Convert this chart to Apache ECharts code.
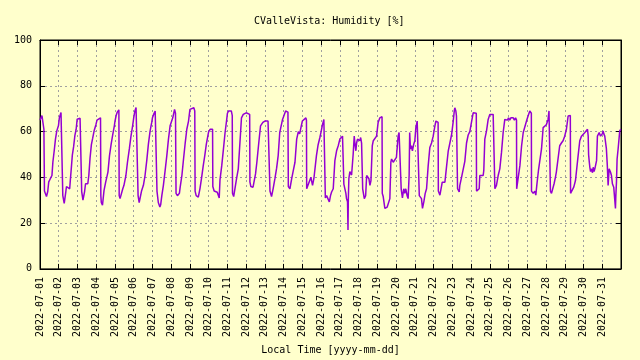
<!DOCTYPE html>
<html>
<head>
<meta charset="utf-8">
<script src="https://cdn.jsdelivr.net/npm/echarts@6/dist/echarts.min.js"></script>
<style>
html,body{margin:0;padding:0;background:#ffffcc;}
#chart{width:640px;height:360px;}
</style>
</head>
<body>
<div id="chart"></div>
<script>
// Tick labels for each day of July 2022
const tickLabels = [
  '2022-07-01','2022-07-02','2022-07-03','2022-07-04','2022-07-05','2022-07-06','2022-07-07',
  '2022-07-08','2022-07-09','2022-07-10','2022-07-11','2022-07-12','2022-07-13','2022-07-14',
  '2022-07-15','2022-07-16','2022-07-17','2022-07-18','2022-07-19','2022-07-20','2022-07-21',
  '2022-07-22','2022-07-23','2022-07-24','2022-07-25','2022-07-26','2022-07-27','2022-07-28',
  '2022-07-29','2022-07-30','2022-07-31'
];
const yTicks = [0, 20, 40, 60, 80, 100];

// Humidity readings [hour of day, %RH], one sub-array per day
const week1 = [ // Jul 1 - Jul 7
  [[0,65],[1.5,65.5],[2.5,67],[4,67],[5,61],[5.7,34],[8.3,31.6],[9.9,33.8],[11.2,38],[13.2,39.4],[15.3,40.8],[16.5,46.7],[18.2,51.6],[19.8,56.7],[21.5,60.3],[23.6,62.5]],
  [[0.8,66],[2.9,68.3],[4.1,69],[4.8,69],[5.2,32],[7,28.6],[9.1,33.8],[9.9,36],[14,35],[14.9,39],[16.1,44],[17.4,49.7],[19,53.3],[20.7,58.3],[22.3,61],[23.6,65.4]],
  [[1.2,65.8],[3.3,65.8],[5,65.5],[5.4,33.8],[7,30],[9.1,33.8],[10.3,37.2],[13.2,37.2],[14.5,40.8],[16.1,48.5],[17.8,54.3],[19.4,57],[21.5,60.6],[23.6,63]],
  [[1,65],[3,65.8],[5.5,66],[5.9,32],[6.5,29],[8,27.8],[10,34.3],[12.1,37.9],[13.7,38.6],[15,42.3],[17,49.5],[19.1,54.5],[21.2,58.8],[23.2,62.5]],
  [[0,64.5],[1.5,67],[3,68.5],[4.5,69],[5,69.5],[5.4,32],[6.5,30.7],[8.5,31],[10,35],[11.5,36.5],[14,40.8],[16,46.6],[18.4,52.4],[20.5,58],[22.6,62.5]],
  [[0,66],[1.5,69],[3,70.5],[5,71],[5.6,32],[7,29],[8,28.5],[10,34],[12.4,36.5],[14.5,40.8],[16.7,47.3],[18.8,54.5],[21,60.3],[23,63.9]],
  [[0,66],[1.5,67.5],[3.5,69],[5.3,69.5],[5.8,34],[7.5,29],[9.5,27],[10.5,28],[12,32],[14,36.5],[16,42.3],[18.4,49.5],[20.5,56.7],[22.6,62.5]]
];
const week2 = [ // Jul 8 - Jul 14
  [[0,64],[2,66],[4.3,69.7],[5.5,68],[6.2,33],[8,32],[10.5,33],[11.5,35.7],[13.7,40.8],[15.8,48],[18,55.2],[20,61],[22.2,64.6]],
  [[0,69.7],[2,70.4],[5,70.4],[6.2,69],[6.6,34],[8,32],[10.7,31.4],[12.8,35],[15,40],[17,45],[19,49.5],[21,54.5],[23.3,58.8]],
  [[0,60],[2,61],[4,61.7],[5,61],[5.3,36],[7,34],[9,34],[11,33.5],[13.5,31],[14.5,39],[16.7,45],[18.8,52],[21,59.6],[23,65]],
  [[0,68],[1.5,69],[3,69.7],[5,69],[6.2,67],[6.5,33],[8,31.6],[9,31.6],[11.7,39.4],[13.9,43.7],[16,55],[18,66],[20.3,67.5],[22.5,68.2]],
  [[0,68.2],[2.5,67.5],[4.5,67.5],[4.8,38],[6,36],[8.8,35.7],[12,41.5],[13.7,46.6],[16.2,55.2],[18.4,62.5],[21.4,64],[23,64.6]],
  [[0,64.6],[4,64.6],[6.2,64],[6.5,34],[8.5,31.6],[10.5,35],[12.8,39.4],[15,44],[17,49.5],[19,59.6],[22.6,65.3]],
  [[0,66],[2.5,69],[5.5,68.5],[6,36],[8,35],[10.3,39.4],[12.4,43],[14.5,46.6],[16.7,56.7],[18.8,60],[20.5,59],[22.6,62.5]]
];
const week3 = [ // Jul 15 - Jul 21
  [[0,64.6],[1.5,65],[4.5,66],[5.2,65],[5.5,35],[7.5,35],[10.9,40],[13,36.5],[14.7,39.4],[18,49.5],[20,54],[22.4,57.4]],
  [[0,60],[1.7,63],[3.5,65.3],[5,65],[5.4,31],[7,32],[8.5,32],[10.5,29.3],[12,32],[13.4,33.6],[15.5,35],[17.6,47.3],[19.8,51.6],[21.9,53.8]],
  [[0,56.7],[1.3,57.4],[3.4,58],[4.8,57.4],[5.1,37],[6.4,36.5],[7.7,33],[8.5,30.7],[9.8,29.3],[10.4,17],[10.8,30],[11.5,39.4],[12.8,42.5],[15,41],[16.2,41],[17,50],[18.4,58],[19.2,55],[20.5,51.6],[21.4,55],[22.6,56.7],[23.5,57.4]],
  [[1.7,56],[2.6,57.4],[3.8,55],[4.8,55],[5.2,35],[7.3,30.7],[9,32],[10.3,40.8],[11.5,40],[13.2,39.4],[14.5,36.5],[15.8,38.6],[17.5,53.8],[18.8,56],[20.9,56],[23,58]],
  [[1,64],[3.2,66],[4.5,66.8],[6,66.5],[6.3,33],[7.5,31.6],[9.6,26.4],[10.9,25.7],[12.6,27],[14.3,27.8],[16,30.7],[17.3,46.6],[18.2,48],[20.3,46.6],[22.4,47.3]],
  [[0.4,48.7],[2.6,58],[3.8,59.6],[5.6,60],[6.2,59],[6.5,35],[8.1,31],[9.8,35],[11.1,33],[12.4,35],[14.1,32],[15.4,30.7],[16.7,41],[17.4,59.6],[18.4,52.4],[19.7,53.8],[20.9,51.6],[22.6,54.5]],
  [[0,56],[1.3,61.7],[3,64.6],[4.3,65.3],[5.4,65],[5.7,32],[8.5,30.7],[9.8,26.4],[11.5,29.3],[13.2,32.9],[15,35],[17.1,45.1],[19.2,53],[21.4,55],[23.5,58]]
];
const week4 = [ // Jul 22 - Jul 28
  [[1.7,62.5],[3,64.6],[3.8,65.3],[5.1,64.6],[5.8,64],[6.1,34],[8.1,32.2],[9.4,31.4],[11.1,37.9],[13.2,38.6],[14.5,37.9],[16.7,45],[18.8,51.6],[20.9,55],[23.1,58.8]],
  [[1,64],[2.5,69],[3.2,70.4],[4.5,69],[5.3,66.8],[6.4,66],[6.7,35],[8.8,33.6],[9.6,36.5],[11.8,40],[13.9,40.8],[16,47],[18.2,55],[20.3,58.5],[22.4,60]],
  [[0.5,64],[2.7,68.2],[4.8,69],[6.7,68],[7,34],[9.1,33.6],[10.4,35],[11.2,40.8],[13.4,40.8],[15.5,40.8],[16.3,43],[17.6,56.7],[19.8,60.3],[21.9,65.3]],
  [[0,67.5],[2.1,68],[4.3,67.5],[6.2,67],[6.5,35],[8.5,36.5],[10.7,40.8],[12.8,43.7],[15,51],[17.1,59.6],[19.2,65.3],[21.4,66],[22.5,65]],
  [[0,66],[1.5,65],[3,66],[4.5,65.5],[6,66],[7.5,65],[9,66],[10.2,65],[10.4,35],[11.1,35.7],[12.4,40],[14.5,45],[16.7,53.8],[18.8,59.6],[23,64.6]],
  [[1,66.8],[3.2,69],[4.5,69],[5.2,68],[5.4,34],[7.5,33],[9.6,34],[10.9,32.2],[12.6,37.9],[14.3,43],[16,43.7],[18.2,52.4],[20.3,61.7],[22.4,62.5]],
  [[0.4,63],[2.6,65.3],[3.8,69],[5,68.5],[5.6,34],[7,33],[9,33.6],[10.3,37.2],[12,40],[13.2,42.3],[15.4,43],[17.5,53.8],[19.7,55],[21.8,56],[23.9,58]]
];
const week5 = [ // Jul 29 - Jul 31
  [[2.1,61],[4.3,66.8],[5.6,67.5],[7.1,67],[7.4,33],[9.8,32.2],[11.5,35.7],[13.7,38.6],[15.8,39.4],[17.1,49.5],[19.2,56],[21.4,58],[23.5,58.8]],
  [[1.7,59.6],[3.8,60.3],[5.1,61],[6,58],[6.5,50],[7.3,47],[8.1,44.4],[9,42.5],[10.3,43.7],[11.5,42],[12.4,44.4],[13.5,42.5],[14.5,43.7],[15.8,44.4],[16.7,47.3],[17.8,58],[18.8,58.8],[20.1,59.6],[21.8,58],[23.1,58]],
  [[0,59],[1.1,60.3],[2,59],[3.2,58],[5.3,52.4],[6.5,45],[7.5,36.5],[8.8,43.7],[10.5,42.3],[11.8,40.8],[13,37.2],[14.7,35.7],[16,35],[16.9,26.4],[17.4,32],[18.2,37.9],[19,48],[20.3,52.4],[22.4,60.3],[23.7,61]]
];

// Build series: x = hours since 2022-07-01 00:00
const allDays = [].concat(week1, week2, week3, week4, week5);
const seriesData = [];
allDays.forEach(function (day, i) {
  day.forEach(function (p) { seriesData.push([i * 24 + p[0], p[1]]); });
});

const FONT = 'DejaVu Sans Mono';
const chart = echarts.init(document.getElementById('chart'), null, {renderer: 'canvas'});
const axisText = {fontFamily: FONT, fontSize: 10, color: '#000'};
const gridLine = {show: true, lineStyle: {color: '#a0a0a0', width: 1, type: [2, 3]}};
chart.setOption({
  backgroundColor: '#ffffcc',
  animation: false,
  graphic: [{
    type: 'text', left: 254, top: 16,
    style: {text: 'CValleVista: Humidity [%]', font: '10px "DejaVu Sans Mono"', fill: '#000'}
  }],
  grid: {left: 40, right: 19, top: 40, bottom: 89, show: true, borderColor: '#000', borderWidth: 1},
  xAxis: [{
    type: 'value', min: 0, max: tickLabels.length * 24, interval: 24,
    axisLine: {show: true, onZero: false, lineStyle: {color: '#000', width: 1}},
    axisTick: {show: true, inside: true, length: 5, lineStyle: {color: '#000'}},
    axisLabel: Object.assign({rotate: 90, margin: 8, formatter: function (v) { return tickLabels[v / 24] || ''; }}, axisText),
    splitLine: gridLine,
    name: 'Local Time [yyyy-mm-dd]', nameLocation: 'middle', nameGap: 76,
    nameTextStyle: axisText
  }, {
    type: 'value', position: 'top', min: 0, max: tickLabels.length * 24, interval: 24,
    axisLine: {show: true, onZero: false, lineStyle: {color: '#000', width: 1}},
    axisTick: {show: true, inside: true, length: 5, lineStyle: {color: '#000'}},
    axisLabel: {show: false}, splitLine: {show: false}
  }],
  yAxis: [{
    type: 'value', min: yTicks[0], max: yTicks[yTicks.length - 1], interval: 20,
    axisLine: {show: true, onZero: false, lineStyle: {color: '#000', width: 1}},
    axisTick: {show: true, inside: true, length: 5, lineStyle: {color: '#000'}},
    axisLabel: Object.assign({margin: 8}, axisText),
    splitLine: gridLine
  }, {
    type: 'value', position: 'right', min: yTicks[0], max: yTicks[yTicks.length - 1], interval: 20,
    axisLine: {show: true, onZero: false, lineStyle: {color: '#000', width: 1}},
    axisTick: {show: true, inside: true, length: 5, lineStyle: {color: '#000'}},
    axisLabel: {show: false}, splitLine: {show: false}
  }],
  series: [{
    type: 'line', xAxisIndex: 0, yAxisIndex: 0,
    data: seriesData, showSymbol: false, symbol: 'none',
    lineStyle: {color: '#9400d3', width: 1.5},
    emphasis: {disabled: true}
  }]
});
</script>
</body>
</html>
